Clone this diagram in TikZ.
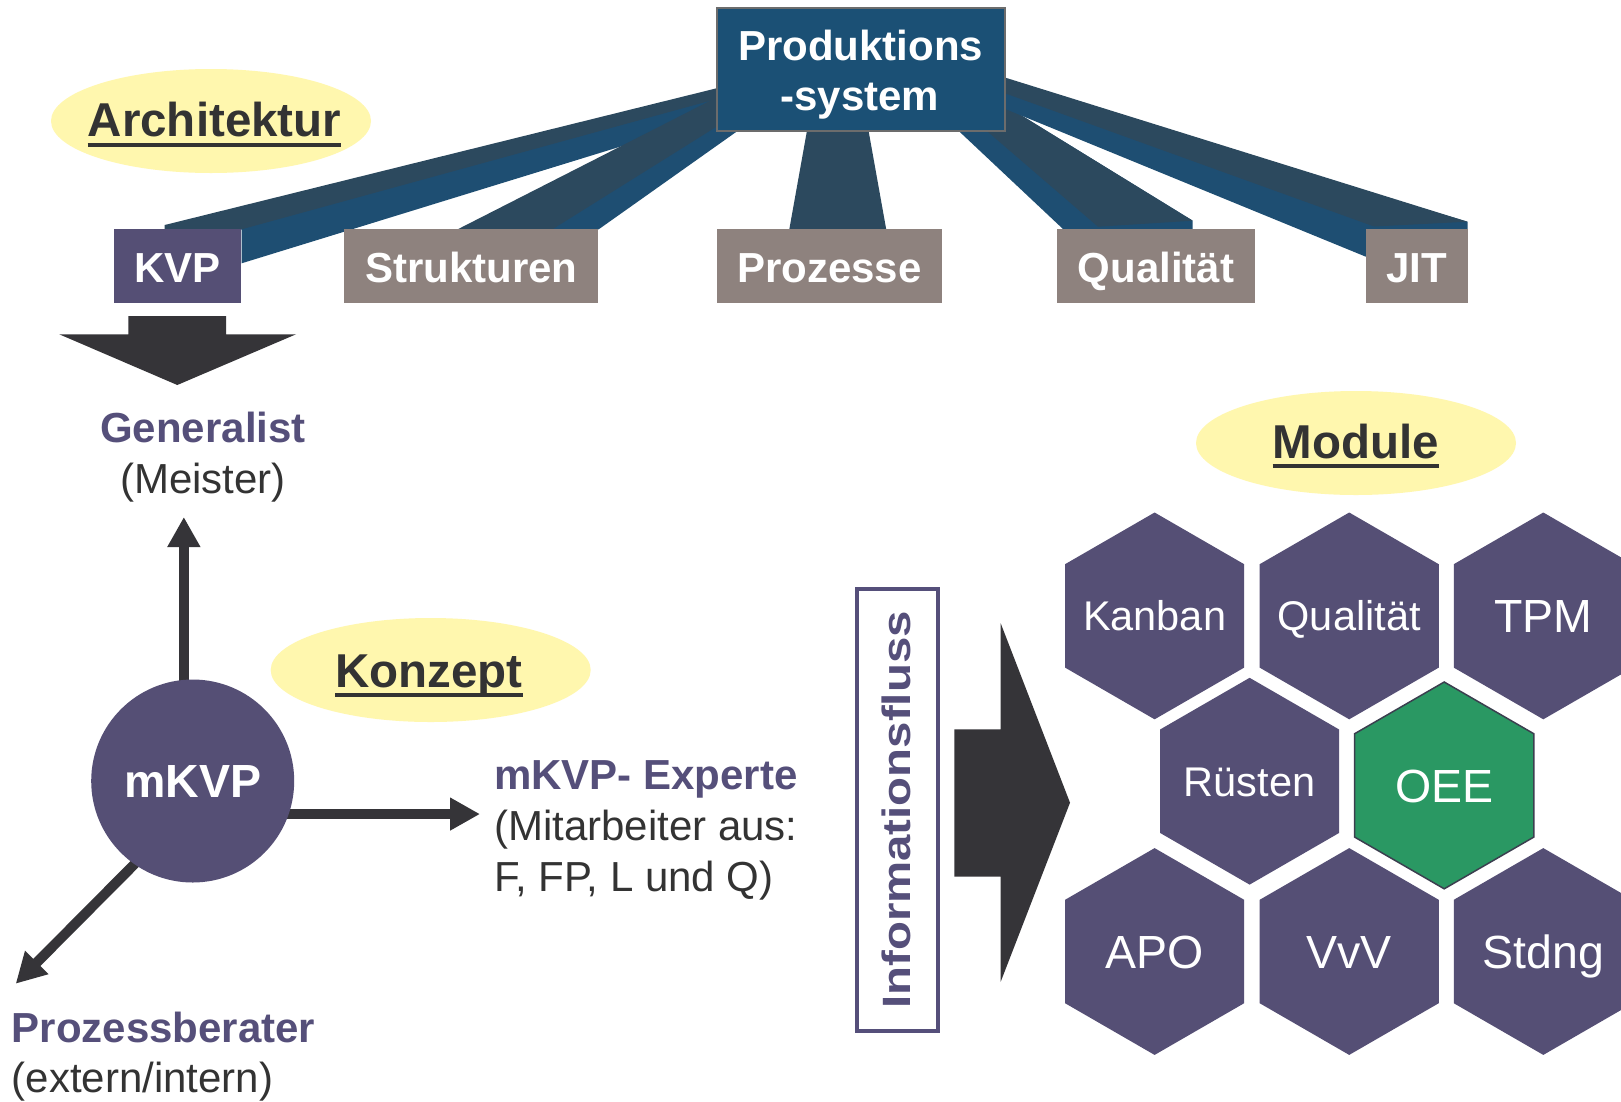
\documentclass[tikz,border=0pt]{standalone}
\usepackage{fontspec}
\setmainfont{Liberation Sans}
\usetikzlibrary{arrows.meta,shapes.geometric,backgrounds,calc}
\definecolor{psfill}{HTML}{1B5075}
\definecolor{beamdark}{HTML}{2C495E}
\definecolor{beamblue}{HTML}{1E4E72}
\definecolor{kvpc}{HTML}{554F75}
\definecolor{grayc}{HTML}{8E827E}
\definecolor{ylw}{HTML}{FFF7AE}
\definecolor{txtdark}{HTML}{333333}
\definecolor{txtpurple}{HTML}{554F7A}
\definecolor{arrowdark}{HTML}{353438}
\definecolor{oeec}{HTML}{2A9863}
\definecolor{oeeline}{HTML}{3B3F4F}
\begin{document}
\begin{tikzpicture}[x=1pt,y=-1pt,
  topbox/.style={rectangle, minimum height=73.7pt, inner sep=0pt, outer sep=0pt,
     text=white, font=\fontsize{42}{50}\selectfont\bfseries, text height=32pt, text depth=0pt},
  boxtxt/.style={inner sep=0pt, anchor=base, text=white, font=\fontsize{42}{50}\selectfont\bfseries},
  yell/.style={ellipse, fill=ylw, minimum width=320pt, minimum height=104pt, inner sep=0pt},
  headtxt/.style={inner sep=0pt, anchor=base, text=txtdark, font=\fontsize{47.5}{56}\selectfont\bfseries},
  ulin/.style={draw=txtdark, line width=4pt},
  plbl/.style={inner sep=0pt, text=txtpurple, font=\fontsize{42}{50}\selectfont\bfseries},
  dlbl/.style={inner sep=0pt, text=txtdark, font=\fontsize{42}{50}\selectfont},
  arr/.style={draw=arrowdark, line width=10pt, shorten <=-8pt, -{Triangle[length=30pt,width=31pt]}},
  hexa/.style={regular polygon, regular polygon sides=6, regular polygon rotate=30,
     minimum size=206.8pt, inner sep=0pt, outer sep=0pt, fill=kvpc, text=white, text depth=0pt},
  hsm/.style={font=\fontsize{41.5}{48}\selectfont, text height=29.7pt},
  hlg/.style={font=\fontsize{46.5}{54}\selectfont, text height=33.3pt}
]
\useasboundingbox (0,0) rectangle (1621,1101);
\clip (0,0) rectangle (1621,1101);
\begin{scope}[on background layer]
\fill[white] (0,0) rectangle (1621,1101);
\end{scope}

% ---- beams (blue side face drawn first, dark top face over it) ----
% KVP
\fill[beamblue] (200,229.3) -- (716.5,92) -- (716.5,117) -- (241.6,263.3) -- (241.6,229.3) -- cycle;
\fill[beamdark] (164.7,225) -- (716.5,88.3) -- (716.5,99) -- (241.6,229.3) -- (164.7,229.3) -- cycle;
% Strukturen
\fill[beamblue] (520,229.3) -- (716.5,110) -- (716.5,131) -- (737.5,131) -- (598.7,229.3) -- cycle;
\fill[beamdark] (457.7,229.3) -- (716.5,97.5) -- (716.5,126.7) -- (552.4,229.3) -- cycle;
% Prozesse
\fill[beamdark] (807.1,130) -- (868.4,130) -- (886.2,229.3) -- (789.3,229.3) -- cycle;
% Qualitaet
\fill[beamblue] (957.7,130) -- (1004.5,130) -- (1004.5,105) -- (1192.7,220.7) -- (1192.7,229.3) -- (1063.3,229.3) -- cycle;
\fill[beamdark] (985.7,130) -- (1004.5,130) -- (1004.5,105) -- (1192.7,220.7) -- (1098,226.7) -- cycle;
% JIT
\fill[beamblue] (1004.2,85) -- (1467.5,221.7) -- (1467.5,229.3) -- (1365.8,229.3) -- (1365.8,256.7) -- (1020,115) -- (1004.2,108.5) -- cycle;
\fill[beamdark] (1004.2,77.3) -- (1467.5,221.7) -- (1374,226.5) -- (1004.2,93) -- cycle;

% ---- top box ----
\node[rectangle, fill=psfill, draw=gray!85!black, line width=2pt, minimum width=287.8pt, minimum height=123pt, inner sep=0pt] (ps) at (860.6,69.8) {};
\node[boxtxt] (ps1) at (860.6,60) {Produktions};
\node[boxtxt] (ps2) at (859.8,110.7) {-system};

% ---- module boxes ----
\node[topbox, fill=kvpc, minimum width=127.4pt] (kvp) at (177.7,266.2) {KVP};
\node[topbox, fill=grayc, minimum width=254.5pt] (str) at (471.2,266.2) {Strukturen};
\node[topbox, fill=grayc, minimum width=225.3pt] (proz) at (829.3,266.2) {Prozesse};
\node[topbox, fill=grayc, minimum width=198pt] (qual) at (1156,266.2) {Qualität};
\node[topbox, fill=grayc, minimum width=102.2pt] (jit) at (1416.9,266.2) {JIT};

% ---- yellow labels ----
\node[yell] (archel) at (211,121) {};
\node[headtxt] (archt) at (214.5,136.7) {Architektur};
\draw[ulin] ($(archt.base west)+(0,8)$) -- ($(archt.base east)+(0,8)$);

\node[yell] (konel) at (430.7,670) {};
\node[headtxt] (kont) at (429,687) {Konzept};
\draw[ulin] ($(kont.base west)+(0,7.5)$) -- ($(kont.base east)+(0,7.5)$);

\node[yell] (model) at (1356,443) {};
\node[headtxt] (modt) at (1356,458) {Module};
\draw[ulin] ($(modt.base west)+(0,8)$) -- ($(modt.base east)+(0,8)$);

% ---- KVP down arrow ----
\fill[arrowdark] (128.3,316) -- (226,316) -- (226,334.3) -- (296,334.3) -- (177.3,385) -- (59.3,334.3) -- (128.3,334.3) -- cycle;

% ---- labels lower left ----
\node[plbl, anchor=base] (gen) at (203,442) {Generalist};
\node[dlbl, anchor=base] (meis) at (203,493) {(Meister)};

\node[plbl, anchor=base west] (exp1) at (494,789.5) {mKVP- Experte};
\node[dlbl, anchor=base west] (exp2) at (494,840) {(Mitarbeiter aus:};
\node[dlbl, anchor=base west] (exp3) at (494,891) {F, FP, L und Q)};

\node[plbl, anchor=base west] (pb1) at (11.5,1042) {Prozessberater};
\node[dlbl, anchor=base west] (pb2) at (11.5,1092) {(extern/intern)};

% ---- mKVP circle and arrows ----
\node[circle, fill=kvpc, minimum size=203pt, inner sep=0pt, outer sep=0pt, text=white,
      font=\fontsize{46.5}{54}\selectfont\bfseries, text height=33pt, text depth=0pt] (mkvp) at (192.7,781) {mKVP};
\coordinate (gtip) at (184,517);
\coordinate (etip) at (480,814);
\coordinate (dtip) at (15.7,983.7);
\begin{scope}[on background layer]
\draw[arr] (mkvp.95) -- (mkvp.95 |- gtip);
\draw[arr] (mkvp.-19) -- (mkvp.-19 -| etip);
\draw[arr] (mkvp.235) -- (dtip);
\end{scope}

% ---- Informationsfluss ----
\node[draw=txtpurple, line width=4pt, rotate=90, minimum width=442.6pt, minimum height=81pt,
      inner sep=0pt, text=txtpurple, font=\fontsize{39.5}{47}\selectfont\bfseries,
      text height=28.3pt, text depth=3.3pt] (info) at (897.5,810) {\scalebox{1.2}[1]{Informationsfluss}};

\fill[arrowdark] (954.3,729.3) -- (1000.7,729.3) -- (1000.7,623.3) -- (1070,802.7) -- (1000.7,981.7) -- (1000.7,876.7) -- (954.3,876.7) -- cycle;

% ---- hexagons ----
\node[hexa, hsm] (kanban) at (1154.6,615.9) {\makebox[0pt]{Kanban}};
\node[hexa, hsm] (hqual) at (1349.2,615.9) {\makebox[0pt]{Qualität}};
\node[hexa, hlg] (tpm) at (1543.3,615.9) {\makebox[0pt]{TPM}};
\node[hexa, hsm] (ruest) at (1249.6,781.2) {\makebox[0pt]{Rüsten}};
\node[hexa, hlg, fill=oeec, draw=oeeline, line width=1.5pt] (oee) at (1444.2,785.4) {\makebox[0pt]{OEE}};
\node[hexa, hlg] (apo) at (1154.6,951.5) {\makebox[0pt]{APO}};
\node[hexa, hlg] (vvv) at (1349.2,951.5) {\makebox[0pt]{VvV}};
\node[hexa, hlg] (stdng) at (1543.3,951.5) {\makebox[0pt]{Stdng}};
\end{tikzpicture}
\end{document}
